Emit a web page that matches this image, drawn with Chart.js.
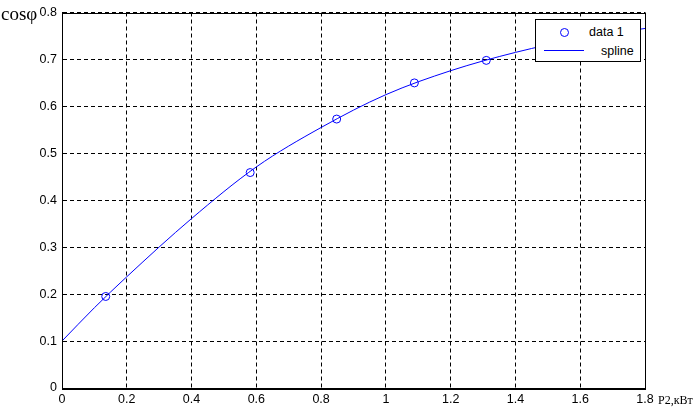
<!DOCTYPE html>
<html>
<head>
<meta charset="utf-8">
<script src="https://cdn.jsdelivr.net/npm/chart.js@4"></script>
<style>
    body { margin: 0; background: #fff; }
    #wrap { position: relative; width: 694px; height: 413px; }
    .lbl { position: absolute; font-family: "Liberation Serif", "Times New Roman", serif; color: #000; white-space: nowrap; line-height: 1; }
    #legend { position: absolute; left: 535px; top: 19px; width: 104px; height: 41px; background: #fff; border: 1px solid #000;
        font-family: "Liberation Sans", Arial, sans-serif; font-size: 12.5px; color: #000; }
    #legend .row { position: absolute; left: 0; right: 0; height: 18px; }
    #legend .mark { position: absolute; box-sizing: border-box; }
    #legend .txt { position: absolute; line-height: 18px; }
</style>
</head>
<body>
<div id="wrap">
    <canvas id="chart" width="694" height="413"></canvas>
    <span class="lbl" style="left:1px; top:4px; font-size:19px;">cosφ</span>
    <span class="lbl" style="left:658px; top:394px; font-size:12px;">P2,кВт</span>
    <div id="legend"></div>
</div>
<script>
// measured points
const dataX = [0.135, 0.581, 0.848, 1.088, 1.310];
const dataY = [0.195, 0.459, 0.573, 0.650, 0.698];

// spline
const splineX = [0, 0.1, 0.2, 0.4, 0.6, 0.8, 1.0, 1.2, 1.4, 1.6, 1.8];
const splineY = [0.1, 0.171, 0.237, 0.361, 0.471, 0.555, 0.625, 0.676, 0.715, 0.745, 0.766];

const xTicks = [0, 0.2, 0.4, 0.6, 0.8, 1, 1.2, 1.4, 1.6, 1.8];
const yTicks = [0, 0.1, 0.2, 0.3, 0.4, 0.5, 0.6, 0.7, 0.8];

const blue = '#0000ff';
const tickFont = { family: '"Liberation Sans", Arial, sans-serif', size: 12.5 };

const frame = {
    id: 'frame',
    afterDraw(chart) {
        const { ctx, chartArea: a } = chart;
        ctx.save();
        ctx.strokeStyle = '#000';
        ctx.lineWidth = 1;
        ctx.strokeRect(Math.round(a.left) + 0.5, Math.round(a.top) + 0.5,
            Math.round(a.right - a.left), Math.round(a.bottom - a.top));
        ctx.restore();
    }
};

const chart = new Chart(document.getElementById('chart'), {
    type: 'scatter',
    data: {
        datasets: [
            {
                label: 'data 1',
                data: dataX.map((x, i) => ({ x: x, y: dataY[i] })),
                showLine: false,
                pointStyle: 'circle',
                pointRadius: 4,
                pointBorderWidth: 1,
                borderColor: blue,
                backgroundColor: 'rgba(0,0,0,0)',
                order: 1
            },
            {
                label: 'spline',
                data: splineX.map((x, i) => ({ x: x, y: splineY[i] })),
                showLine: true,
                pointRadius: 0,
                borderWidth: 1,
                borderColor: blue,
                cubicInterpolationMode: 'monotone',
                order: 2
            }
        ]
    },
    options: {
        responsive: false,
        animation: false,
        layout: { padding: { left: 0, right: 49, top: 12, bottom: 0 } },
        plugins: {
            legend: { display: false },
            tooltip: { enabled: false }
        },
        scales: {
            x: {
                type: 'linear',
                min: 0,
                max: 1.8,
                afterFit: (s) => { s.height = 25; },
                afterBuildTicks: (s) => { s.ticks = xTicks.map(v => ({ value: v })); },
                grid: { color: '#000', lineWidth: 1, drawTicks: false },
                border: { display: true, color: '#000', dash: [4, 3] },
                ticks: {
                    color: '#000',
                    font: tickFont,
                    padding: 4,
                    maxRotation: 0,
                    callback: (v) => String(+v.toFixed(1))
                }
            },
            y: {
                type: 'linear',
                min: 0,
                max: 0.8,
                afterFit: (s) => { s.width = 62; },
                afterBuildTicks: (s) => { s.ticks = yTicks.map(v => ({ value: v })); },
                grid: { color: '#000', lineWidth: 1, drawTicks: false },
                border: { display: true, color: '#000', dash: [4, 3] },
                ticks: {
                    color: '#000',
                    font: tickFont,
                    padding: 5,
                    callback: (v) => String(+v.toFixed(1))
                }
            }
        }
    },
    plugins: [frame]
});

// legend box drawn over the plot, like the original
const legend = document.getElementById('legend');
chart.data.datasets.forEach((ds, i) => {
    const row = document.createElement('div');
    row.className = 'row';
    row.style.top = (i === 0 ? 3 : 22) + 'px';
    const mark = document.createElement('span');
    mark.className = 'mark';
    if (ds.showLine === false) {
        mark.style.cssText = 'left:24px; top:5px; width:9px; height:9px; border:1px solid ' + blue + '; border-radius:50%;';
    } else {
        mark.style.cssText = 'left:8px; top:8px; width:40px; height:1px; background:' + blue + ';';
    }
    const txt = document.createElement('span');
    txt.className = 'txt';
    txt.textContent = ds.label;
    txt.style.left = (i === 0 ? 53 : 65) + 'px';
    row.appendChild(mark);
    row.appendChild(txt);
    legend.appendChild(row);
});
</script>
</body>
</html>
